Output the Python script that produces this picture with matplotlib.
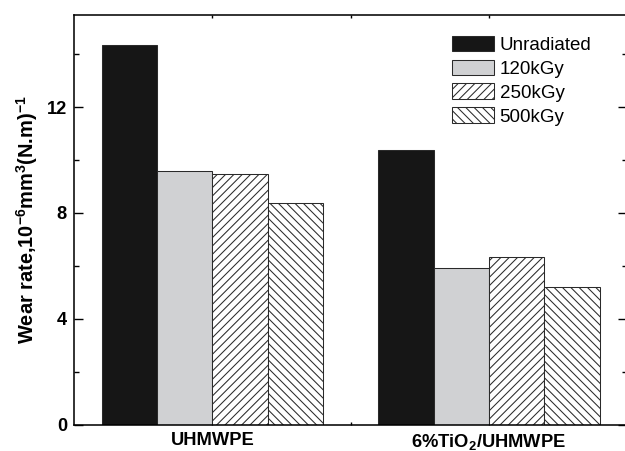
import numpy as np
import matplotlib
matplotlib.use("Agg")
import matplotlib.pyplot as plt
from matplotlib.ticker import MultipleLocator, FixedLocator

plt.rcParams["font.family"] = ["Liberation Sans", "DejaVu Sans"]
plt.rcParams["mathtext.fontset"] = "custom"
plt.rcParams["mathtext.rm"] = "Liberation Sans"
plt.rcParams["mathtext.bf"] = "Liberation Sans:bold"
plt.rcParams["hatch.linewidth"] = 0.6

groups = ["UHMWPE", r"6%TiO$_\mathbf{2}$/UHMWPE"]
doses = ["Unradiated", "120kGy", "250kGy", "500kGy"]
wear = {
    "Unradiated": [14.37, 10.40],
    "120kGy": [9.59, 5.93],
    "250kGy": [9.46, 6.34],
    "500kGy": [8.36, 5.21],
}
colors = ["#161616", "#d0d1d3", "white", "white"]
hatches = ["", "", "/////", "\\\\\\\\\\"]

DPI = 125
fig = plt.figure(figsize=(625 / DPI, 451 / DPI), dpi=DPI)
ax = fig.add_axes([74 / 625, 1 - 424.5 / 451, 553.4 / 625, (424.5 - 14.7) / 451])

x = np.arange(1, len(groups) + 1)
w = 0.2
for i, d in enumerate(doses):
    ax.bar(x + (i - 1.5) * w, wear[d], w, color=colors[i], hatch=hatches[i],
           edgecolor="#2a2a2a", linewidth=0.6, label=d, zorder=2)

ax.set_xlim(0.5, 2.5)
ax.set_ylim(0, 15.5)
ax.xaxis.set_major_locator(FixedLocator([1, 1.5, 2]))
ax.set_xticklabels([groups[0], "", groups[1]])
ax.yaxis.set_major_locator(MultipleLocator(4))
ax.yaxis.set_minor_locator(MultipleLocator(2))
ax.tick_params(axis="y", which="major", direction="in", length=5, width=0.8,
               labelsize=10.5, pad=4, right=True)
ax.tick_params(axis="y", which="minor", direction="in", length=3, width=0.8, right=True)
ax.tick_params(axis="x", which="major", direction="in", length=2, width=0.8,
               labelsize=10.6, pad=4.5, top=True)
for lab in ax.get_xticklabels() + ax.get_yticklabels():
    lab.set_fontweight("bold")
for s in ax.spines.values():
    s.set_linewidth(0.9)

ax.set_ylabel(r"Wear rate,10$^{\mathbf{-6}}$mm$^{\mathbf{3}}$(N.m)$^{\mathbf{-1}}$",
              fontsize=11.5, fontweight="bold", labelpad=4)

ax.legend(loc="upper left", bbox_to_anchor=(451.7 / 625, 1 - 35.7 / 451),
          bbox_transform=fig.transFigure, frameon=False, fontsize=10.8,
          handlelength=2.25, handleheight=0.9, labelspacing=0.3,
          handletextpad=0.3, borderpad=0, borderaxespad=0)

fig.savefig("out.png", dpi=DPI)
